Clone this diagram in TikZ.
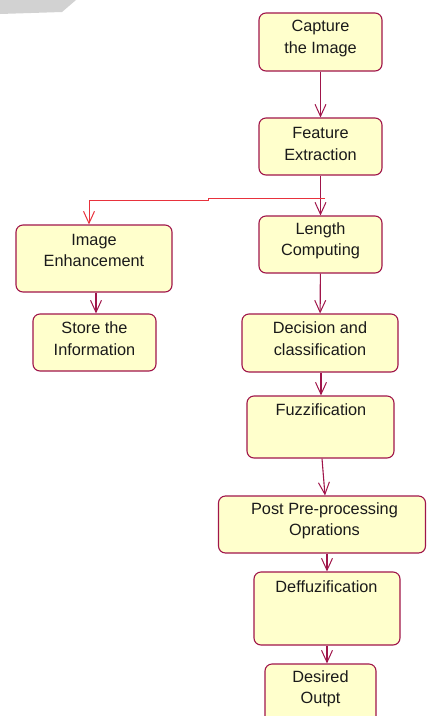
\documentclass[tikz,border=0pt]{standalone}
\usepackage{fontspec}
\setmainfont{Liberation Sans}
\usetikzlibrary{arrows.meta}
\definecolor{boxfill}{HTML}{FFFFCC}
\definecolor{boxline}{HTML}{A0154A}
\definecolor{redline}{HTML}{E8323C}
\definecolor{txt}{HTML}{1A1A1A}
\begin{document}
\begin{tikzpicture}[x=1pt,y=-1pt,
  box/.style={draw=boxline,fill=boxfill,line width=1.1pt,rounded corners=7pt,inner sep=0pt},
  lbl/.style={text=txt,align=center,font=\fontsize{16.3}{21.5}\selectfont,inner sep=0pt},
  flow/.style={draw=boxline,line width=1.1pt,-{Straight Barb[length=12pt,width=11pt,line width=1pt]}},
  redflow/.style={draw=redline,line width=1pt,-{Straight Barb[length=12pt,width=11pt,line width=1pt]}}]
\useasboundingbox (0,0) rectangle (427,716);
\fill[gray!35] (0,0) -- (76,0) -- (62,12) -- (0,14) -- cycle;
% boxes
\node[box,minimum width=123pt,minimum height=58pt] (cap) at (320.5,42) {};
\node[box,minimum width=123pt,minimum height=57pt] (feat) at (320.5,146.5) {};
\node[box,minimum width=123pt,minimum height=57pt] (len) at (320.5,244.5) {};
\node[box,minimum width=156pt,minimum height=67pt] (ie) at (94,258.5) {};
\node[box,minimum width=123pt,minimum height=57pt] (store) at (94.5,342.5) {};
\node[box,minimum width=156pt,minimum height=58pt] (dec) at (320,343) {};
\node[box,minimum width=147pt,minimum height=62pt] (fuzz) at (320.5,427) {};
\node[box,minimum width=207pt,minimum height=57pt] (post) at (322,524.5) {};
\node[box,minimum width=146pt,minimum height=73pt] (deff) at (327,608.5) {};
\node[box,minimum width=111pt,minimum height=70pt] (des) at (320.5,699) {};
% texts
\node[lbl] (capT) at (320.5,38.5) {Capture\\the Image};
\node[lbl] (featT) at (320.5,144) {Feature\\Extraction};
\node[lbl] (lenT) at (320.5,241) {Length\\Computing};
\node[lbl] (ieT) at (94,250.5) {Image\\Enhancement};
\node[lbl] (storeT) at (94.5,338.5) {Store the\\Information};
\node[lbl] (decT) at (320,338.5) {Decision and\\classification};
\node[lbl] (fuzzT) at (321,410) {Fuzzification};
\node[lbl] (postT) at (324.5,521) {Post Pre-processing\\Oprations};
\node[lbl] (deffT) at (326.5,587) {Deffuzification};
\node[lbl] (desT) at (320.5,689) {Desired\\Outpt};
% connectors
\coordinate (fork) at (321,198.5);
\draw[flow] (cap) -- (feat);
\draw[flow] (feat) -- (len);
\draw[redflow] ([xshift=4pt]fork) -- (208,198.5) -- (208,200) -- (89,200) -- (ie.north -| 89,0);
\draw[flow] (ie.south -| 96,0) -- (store.north -| 96,0);
\draw[flow] (len) -- (dec);
\draw[flow] (dec.south -| 321,0) -- (fuzz.north -| 321,0);
\draw[flow] (fuzz.south -| 322,0) -- (post.north -| 325,0);
\draw[flow] (post.south -| 327,0) -- (deff.north -| 327,0);
\draw[flow] (deff.south -| 327,0) -- (des.north -| 327,0);
\end{tikzpicture}
\end{document}
